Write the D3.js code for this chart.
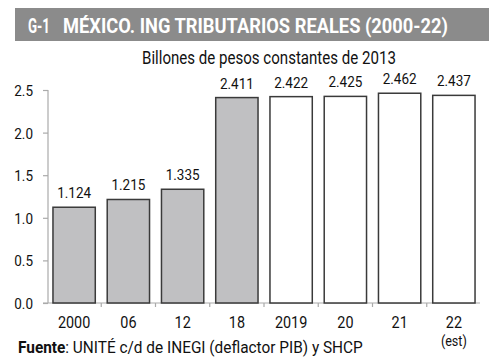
<!DOCTYPE html>
<html><head><meta charset="utf-8">
<script src="https://cdn.jsdelivr.net/npm/d3@7"></script>
<style>
body{margin:0;background:#fff;}
svg{display:block;}
text{font-family:Roboto,"DejaVu Sans Condensed",sans-serif;}
</style></head>
<body>
<script>
const categories = ["2000","06","12","18","2019","20","21","22"];
const subLabels = [null,null,null,null,null,null,null,"(est)"];
const values = [1.124,1.215,1.335,2.411,2.422,2.425,2.462,2.437];
const valueLabels = ["1.124","1.215","1.335","2.411","2.422","2.425","2.462","2.437"];
const historic = [true,true,true,true,false,false,false,false];
const yTicks = [0,0.5,1.0,1.5,2.0,2.5];
const titleCode = "G-1";
const title = "MÉXICO. ING TRIBUTARIOS REALES (2000-22)";
const subtitle = "Billones de pesos constantes de 2013";
const sourceBold = "Fuente";
const sourceText = ": UNITÉ c/d de INEGI (deflactor PIB) y SHCP";

const W=500,H=362, SQ=0.9;
const svg=d3.select("body").append("svg").attr("width",W).attr("height",H);

function squeezed(parent,x,y,k){
  return parent.append("g").attr("transform",`translate(${x},${y}) scale(${k},1)`).append("text");
}
function fit(parent,x,y,w,build){
  const g=parent.append("g");
  const t=g.append("text");
  build(t);
  const L=t.node().getComputedTextLength();
  g.attr("transform",`translate(${x},${y}) scale(${w/L},1)`);
  return t;
}

// title bar
svg.append("rect").attr("x",15).attr("y",8).attr("width",474).attr("height",33).attr("fill","#8b8b8b");
fit(svg,28,33,22,t=>t.attr("fill","#fff").attr("font-weight","bold").attr("font-size",21).text(titleCode));
fit(svg,63,33,385,t=>t.attr("fill","#fff").attr("font-weight","bold").attr("font-size",21).text(title));

fit(svg,142,63.5,254,t=>t.attr("fill","#111").attr("font-size",18).text(subtitle));

const x=d3.scaleBand().domain(categories).range([47,481]).paddingInner(0.22).paddingOuter(0.11);
const y=d3.scaleLinear().domain([0,2.5]).range([303,90]);

// y axis
const yAxis=svg.append("g").attr("transform","translate(48,0)")
  .call(d3.axisLeft(y).tickValues(yTicks).tickFormat(d3.format(".1f")).tickSize(5).tickPadding(10));
yAxis.select(".domain").attr("stroke","#aaa").attr("stroke-width",1.2).attr("d","M0,"+y(2.5)+"V"+y(0));
yAxis.selectAll(".tick line").attr("stroke","#aaa").attr("stroke-width",1.2);
yAxis.selectAll(".tick text").each(function(){
  const t=d3.select(this);
  const txt=t.text(), tr=d3.select(this.parentNode);
  t.remove();
  tr.append("g").attr("transform",`translate(-15,0) scale(${SQ},1)`).append("text")
    .attr("text-anchor","end").attr("dy","0.36em").attr("font-size",15).attr("fill","#111")
    .style("font-family",'Roboto,"DejaVu Sans Condensed",sans-serif').text(txt);
});

// x axis
const xg=svg.append("g").attr("transform","translate(0,"+y(0)+")");
xg.append("line").attr("x1",43).attr("x2",480).attr("stroke","#aaa").attr("stroke-width",1.2);
const step=x.step();
xg.selectAll(".sep").data(categories.slice(1)).join("line")
  .attr("x1",d=>x(d)-(step-x.bandwidth())/2).attr("x2",d=>x(d)-(step-x.bandwidth())/2)
  .attr("y1",0).attr("y2",4).attr("stroke","#aaa").attr("stroke-width",1.2);

// bars
svg.selectAll(".bar").data(values).join("rect")
  .attr("x",(d,i)=>x(categories[i])).attr("width",x.bandwidth())
  .attr("y",d=>y(d)).attr("height",d=>y(0)-y(d))
  .attr("fill",(d,i)=>historic[i]?"#c0c0c2":"#fff")
  .attr("stroke","#3a3a3a").attr("stroke-width",1.5);

// value labels
values.forEach((v,i)=>{
  squeezed(svg,x(categories[i])+x.bandwidth()/2,y(v)-9,SQ)
    .attr("text-anchor","middle").attr("font-size",15).attr("fill","#111").text(valueLabels[i]);
});

// category labels
categories.forEach((c,i)=>{
  squeezed(svg,x(c)+x.bandwidth()/2,327.5,SQ)
    .attr("text-anchor","middle").attr("font-size",16).attr("fill","#111").text(c);
  if(subLabels[i]) squeezed(svg,x(c)+x.bandwidth()/2,346,SQ)
    .attr("text-anchor","middle").attr("font-size",14).attr("fill","#111").text(subLabels[i]);
});

// source
fit(svg,18,353,345,t=>{
  t.attr("font-size",17).attr("fill","#111");
  t.append("tspan").attr("font-weight","bold").text(sourceBold);
  t.append("tspan").text(sourceText);
});
</script>
</body></html>
